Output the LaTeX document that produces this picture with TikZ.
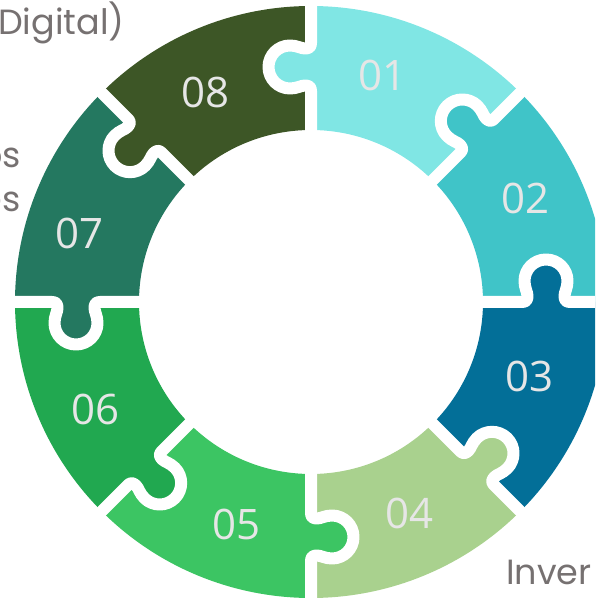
\documentclass[tikz,border=0pt]{standalone}
\usepackage{fontspec}
\setmainfont{Poppins}
\newfontfamily\numfont{Open Sans}
\definecolor{pc1}{HTML}{80E6E4}
\definecolor{pc2}{HTML}{40C4C8}
\definecolor{pc3}{HTML}{036F98}
\definecolor{pc4}{HTML}{A9D18E}
\definecolor{pc5}{HTML}{3CC563}
\definecolor{pc6}{HTML}{21A850}
\definecolor{pc7}{HTML}{247860}
\definecolor{pc8}{HTML}{3D5626}
\definecolor{sidegray}{HTML}{767171}
\definecolor{numgray}{HTML}{E6E6E6}
\newcommand\knobedge{(-24, 0) .. controls (-20, 0) and (-18.5, 2) .. (-18.5, 6)
  .. controls (-18.5, 10) and (-21.5, 14) .. (-21.5, 21)
  arc[start angle=180, end angle=0, radius=21.5pt]
  .. controls (21.5, 14) and (18.5, 10) .. (18.5, 6)
  .. controls (18.5, 2) and (20, 0) .. (24, 0)}
\tikzset{
  gapline/.style={white, line width=12pt, line join=round},
  numlabel/.style={numgray, inner sep=0pt, font=\numfont\fontsize{42}{50}\selectfont},
  sidetext/.style={sidegray, inner sep=0pt, font=\fontsize{35}{42}\selectfont}
}
\begin{document}
\begin{tikzpicture}[x=1pt, y=1pt]
  \clip (0, 0) rectangle (595, 600);
  \coordinate (c) at (311, 298);
  % ring pieces
  \foreach \k [evaluate=\k as \a using {90 - 45 * (\k - 1)}] in {1, ..., 8} {
      \fill[pc\k] ([shift={(c)}] \a:296) arc[start angle=\a, end angle=\a-45, radius=296pt]
        -- ([shift={(c)}] {\a-45}:172) arc[start angle=\a-45, end angle=\a, radius=172pt] -- cycle;
    }
  % knobs
  \foreach \k [evaluate=\k as \a using {90 - 45 * (\k - 1)}] in {1, ..., 8} {
      \begin{scope}[shift={(c)}, rotate=\a, shift={(235, 0)}]
        \fill[pc\k] (-24, -2) -- \knobedge -- (24, -2) -- cycle;
      \end{scope}
    }
  % white gaps
  \foreach \k [evaluate=\k as \a using {90 - 45 * (\k - 1)}] in {1, ..., 8} {
      \begin{scope}[shift={(c)}, rotate=\a, shift={(235, 0)}]
        \draw[gapline] (-66, 0) -- \knobedge -- (66, 0);
      \end{scope}
    }
  \foreach \k/\ang/\r in {1/72.4/238, 2/25.9/238, 3/-18.9/231, 4/-64.9/233,
      5/-108.4/235, 6/-153.4/241, 7/163.6/241, 8/116.7/234}
    \node[numlabel] (n\k) at ([shift={(c)}] \ang:\r) {0\k};
  \node[sidetext, anchor=base west] (digital) at (-2, 565) {Digital)};
  \node[sidetext, anchor=base east] (os) at (21, 432) {os};
  \node[sidetext, anchor=base east] (es) at (21, 388) {es};
  \node[sidetext, anchor=base west] (inver) at (506, 15) {Inver};
\end{tikzpicture}
\end{document}
